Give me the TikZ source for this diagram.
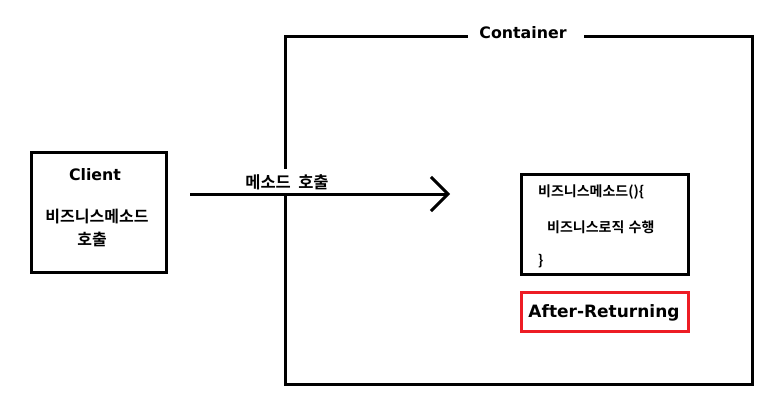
\documentclass[tikz,border=0pt]{standalone}
\usepackage{fontspec}
\setmainfont{DejaVu Sans}
\newfontfamily\kr{Noto Sans CJK KR}[BoldFont={Noto Sans CJK KR Bold}]
\usetikzlibrary{arrows.meta}
\definecolor{boxred}{RGB}{237,28,36}
\tikzset{
  frame/.style={line width=3pt, draw=black},
  lbl/.style={font=\bfseries\fontsize{15.8}{18}\selectfont, inner sep=0pt},
  krtext/.style={font=\kr\bfseries\fontsize{16}{18}\selectfont, inner sep=0pt},
  inn/.style={font=\kr\bfseries\fontsize{14}{16}\selectfont, inner sep=0pt, anchor=west},
}
\begin{document}
\begin{tikzpicture}[x=1pt,y=-1pt]
\useasboundingbox (0,0) rectangle (782,407);
% container
\node[lbl] (ctitle) at (523,33) {Container};
\coordinate (cTL) at (285,36);
\coordinate (cTR) at (752,36);
\coordinate (cBL) at (285,384);
\coordinate (cBR) at (752,384);
\coordinate (gapL) at (466,36);
\coordinate (gapR) at (585,36);
\draw[frame, line cap=rect] (gapL) -- (cTL) -- (cBL) -- (cBR) -- (cTR) -- (gapR);
% client
\node[frame, minimum width=135pt, minimum height=120pt, inner sep=0pt] (client) at (98.5,212) {};
\node[lbl] (clientt) at (95,175) {Client};
\node[krtext] (c1) at (97,217) {비즈니스메소드};
\node[krtext] (c2) at (92,239) {호출};
% arrow label (white background hides the container edge)
\node[fill=white, font=\kr\bfseries\fontsize{16.5}{18}\selectfont, inner xsep=3pt, inner ysep=0pt,
      text height=20pt, text depth=4.5pt, anchor=base] (alabel) at (287,188.5) {메소드\hspace{0.45em}호출};
% arrow
\coordinate (aS) at (190,194);
\coordinate (aE) at (450,194);
\draw[line width=3pt, -{Straight Barb[length=17pt,width=34pt,line width=3pt]}] (aS) -- (aE);
% inner box
\node[frame, minimum width=167pt, minimum height=100pt, inner sep=0pt] (inner) at (604.5,224) {};
\node[inn] (i1) at (538,192) {비즈니스메소드()\{};
\node[inn] (i2) at (547,227) {비즈니스로직\hspace{0.3em}수행};
\node[inn] (i3) at (538,261) {\}};
% after returning
\node[line width=3pt, draw=boxred, minimum width=167pt, minimum height=39pt, inner sep=0pt] (ar) at (604.5,311.5) {};
\node[lbl, font=\bfseries\fontsize{17}{19}\selectfont] (art) at (604,313) {After-Returning};
\end{tikzpicture}
\end{document}
